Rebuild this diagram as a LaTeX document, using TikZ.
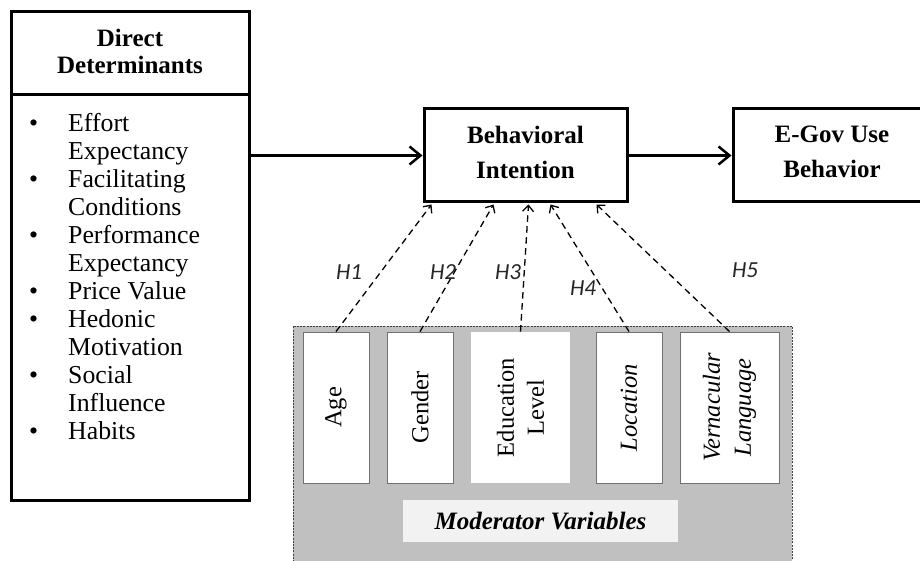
\documentclass[tikz,border=0pt]{standalone}
\usepackage{fontspec}
\setmainfont{Liberation Serif}
\newfontfamily\hfont{Carlito}
\usetikzlibrary{arrows.meta,calc}
\definecolor{modgray}{HTML}{C0C0C0}
\definecolor{labgray}{HTML}{F2F2F2}
\definecolor{edgegray}{HTML}{707070}
\tikzset{
  mainbox/.style={draw=black, line width=3pt, fill=white, inner sep=0pt, align=center,
    font=\fontsize{25}{35}\selectfont\bfseries},
  mainarrow/.style={line width=2.5pt, -{Straight Barb[length=11pt,width=18pt,line width=2.5pt]}},
  modarrow/.style={line width=1.3pt, dash pattern=on 6.5pt off 4.5pt,
    -{Straight Barb[length=6pt,width=11pt,line width=1.3pt]}},
  varbox/.style={draw=edgegray, line width=0.9pt, fill=white, minimum height=151pt, inner sep=0pt},
  vartext/.style={rotate=90, align=center, inner sep=0pt, font=\fontsize{24.5}{30}\selectfont},
  hlabel/.style={font=\hfont\itshape\fontsize{23}{25}\selectfont, inner sep=0pt, text=black!85}
}
\begin{document}
\begin{tikzpicture}[x=1pt,y=-1pt]
\useasboundingbox (0,0) rectangle (920,561);
% Direct determinants
\node[mainbox, minimum width=238pt, minimum height=83pt, font=\fontsize{25}{27}\selectfont\bfseries, text depth=5pt]
  (ddhead) at (130,53.5) {Direct\\Determinants};
\node[draw=black, line width=3pt, minimum width=238pt, minimum height=405pt, inner sep=0pt]
  (ddbody) at (130,297.5) {};
\node[anchor=base west, inner sep=0pt] (ddlist) at (29,132) {\parbox[t]{215pt}{\fontsize{25.8}{28}\selectfont\raggedright
\makebox[39pt][l]{•}Effort\\
\hspace*{39pt}Expectancy\\
\makebox[39pt][l]{•}Facilitating\\
\hspace*{39pt}Conditions\\
\makebox[39pt][l]{•}Performance\\
\hspace*{39pt}Expectancy\\
\makebox[39pt][l]{•}Price Value\\
\makebox[39pt][l]{•}Hedonic\\
\hspace*{39pt}Motivation\\
\makebox[39pt][l]{•}Social\\
\hspace*{39pt}Influence\\
\makebox[39pt][l]{•}Habits}};
% Behavioral intention and use behavior
\node[mainbox, minimum width=203pt, minimum height=93pt, text depth=7pt] (bi) at (525.5,155.5) {Behavioral\\Intention};
\node[mainbox, minimum width=198pt, minimum height=93pt, text depth=7pt] (eg) at (832,155.5) {E-Gov Use\\Behavior};
\draw[mainarrow] (ddbody.east |- bi.west) -- (bi.west);
\draw[mainarrow] (bi.east) -- (eg.west);
% Moderator panel
\node[fill=modgray, draw=black!75, line width=0.8pt, dash pattern=on 2pt off 1.2pt,
  minimum width=499pt, minimum height=240pt, inner sep=0pt] (panel) at (542.5,446) {};
\node[varbox, minimum width=66pt] (age) at (336,407.5) {};
\node[varbox, minimum width=66pt] (gender) at (420,407.5) {};
\node[varbox, draw=none, minimum width=99pt] (edu) at (520.5,407.5) {};
\node[varbox, minimum width=66pt] (loc) at (629,407.5) {};
\node[varbox, minimum width=99pt] (vern) at (729.5,407.5) {};
\node[vartext] (agetxt) at (age.center) {Age};
\node[vartext] (gendertxt) at (gender.center) {Gender};
\node[vartext] (edutxt) at (edu.center) {Education\\Level};
\node[vartext, font=\fontsize{24.5}{30}\selectfont\itshape] (loctxt) at (loc.center) {Location};
\node[vartext, font=\fontsize{24.5}{31}\selectfont\itshape] (verntxt) at (vern.center) {Vernacular\\Language};
\node[fill=labgray, minimum width=275pt, minimum height=42pt, inner sep=0pt,
  font=\fontsize{25}{27}\selectfont\bfseries\itshape] (modlab) at (540.5,521) {Moderator Variables};
% Hypotheses
\draw[modarrow] (age.north) -- ($(bi.south west)+(9,1)$);
\draw[modarrow] (gender.north) -- ($(bi.south west)+(71,1)$);
\draw[modarrow] (edu.north) -- ($(bi.south west)+(106,1)$);
\draw[modarrow] (loc.north) -- ($(bi.south west)+(128,1)$);
\draw[modarrow] (vern.north) -- ($(bi.south west)+(174,1)$);
\node[hlabel] (h1) at (349,272) {H1};
\node[hlabel] (h2) at (443,272) {H2};
\node[hlabel] (h3) at (508,272) {H3};
\node[hlabel] (h4) at (583,288) {H4};
\node[hlabel] (h5) at (745,270) {H5};
\end{tikzpicture}
\end{document}
